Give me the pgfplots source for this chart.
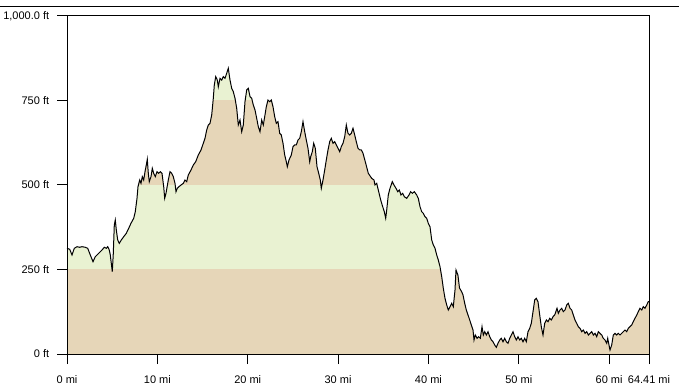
\documentclass[border=0pt]{standalone}
\usepackage{fontspec}
\setmainfont{Liberation Sans}
\usepackage{pgfplots}
\usepackage{pgfplotstable}
\pgfplotsset{compat=1.18}
\definecolor{tanband}{RGB}{230,214,184}
\definecolor{greenband}{RGB}{233,242,210}
\pgfplotstableread{
mi ft
0.000 312.7
0.299 309.8
0.553 292.9
0.808 312.7
1.107 317.5
1.405 315.7
1.660 317.5
2.025 315.7
2.291 312.7
2.579 292.9
2.877 273.1
3.132 287.9
3.508 297.9
3.873 307.7
4.128 315.7
4.349 312.7
4.504 317.5
4.681 307.7
4.792 292.9
4.903 268.3
5.013 243.5
5.124 297.9
5.235 381.7
5.345 396.4
5.456 366.9
5.611 337.3
5.788 327.5
6.009 337.3
6.275 347.0
6.563 357.1
6.828 371.9
7.083 386.7
7.382 401.5
7.559 421.0
7.747 460.6
7.858 495.0
8.046 514.8
8.190 505.0
8.333 524.6
8.488 514.8
8.632 539.3
8.776 559.2
8.887 576.0
8.998 534.6
9.108 509.8
9.296 524.6
9.440 549.4
9.595 534.6
9.772 524.6
9.960 539.3
10.148 534.6
10.325 539.3
10.514 534.6
10.702 495.0
10.812 460.6
10.956 475.4
11.211 514.8
11.399 539.3
11.587 534.6
11.764 524.6
11.952 505.0
12.063 480.2
12.207 490.2
12.395 495.0
12.616 500.0
12.871 505.0
13.059 514.8
13.247 509.8
13.424 529.6
13.723 544.4
13.978 559.2
14.243 568.9
14.531 588.8
14.830 603.6
15.084 623.4
15.272 638.2
15.461 662.7
15.638 677.5
15.826 682.5
16.014 707.1
16.191 756.5
16.302 795.9
16.457 820.4
16.634 810.6
16.745 790.8
16.933 815.7
17.121 810.6
17.298 820.4
17.486 815.7
17.674 830.5
17.851 845.3
18.039 810.6
18.227 786.1
18.404 776.0
18.593 756.5
18.781 726.9
18.958 677.5
19.146 692.3
19.334 657.7
19.511 677.5
19.699 746.5
19.887 781.1
20.065 786.1
20.253 761.2
20.441 756.5
20.618 736.7
20.806 721.9
20.994 697.3
21.171 672.5
21.359 657.7
21.548 692.3
21.725 677.5
21.880 702.1
22.057 731.6
22.245 751.5
22.433 746.5
22.610 751.5
22.798 731.6
22.986 702.1
23.164 682.5
23.351 687.3
23.540 653.0
23.717 647.9
23.905 623.4
24.093 588.8
24.270 568.9
24.381 554.1
24.569 574.0
24.823 588.8
25.011 613.3
25.199 618.4
25.377 618.4
25.565 633.1
25.753 638.2
25.930 657.7
26.118 687.3
26.306 657.7
26.483 633.1
26.671 608.6
26.859 568.9
26.970 583.7
27.147 598.5
27.302 623.4
27.479 608.6
27.668 554.1
27.856 534.6
28.033 514.8
28.144 490.2
28.332 514.8
28.520 544.4
28.697 574.0
28.885 603.6
29.073 628.1
29.250 638.2
29.438 623.4
29.626 628.1
29.804 618.4
29.992 608.6
30.180 598.5
30.357 613.3
30.545 623.4
30.733 642.9
30.910 677.5
31.098 653.0
31.286 647.9
31.464 653.0
31.652 667.8
31.840 647.9
32.017 628.1
32.205 608.6
32.393 603.6
32.570 603.6
32.758 593.8
33.050 565.0
33.344 534.6
33.720 519.8
33.976 514.8
34.086 500.0
34.274 505.0
34.451 485.2
34.717 455.6
34.938 435.8
35.115 421.0
35.270 401.5
35.381 426.0
35.558 470.4
35.746 490.2
36.000 509.8
36.189 500.0
36.410 490.2
36.598 480.2
36.775 485.2
36.964 470.4
37.152 475.4
37.329 465.4
37.595 460.6
37.849 470.4
38.037 480.2
38.214 475.4
38.436 480.2
38.701 470.4
38.878 460.6
39.067 435.8
39.255 421.0
39.432 416.3
39.620 406.2
39.808 401.5
39.985 386.7
40.173 376.6
40.362 337.3
40.539 322.5
40.727 312.7
40.915 292.9
41.092 278.1
41.280 258.3
41.469 228.7
41.646 194.4
41.833 164.8
42.022 145.0
42.199 130.2
42.387 139.9
42.575 150.0
42.752 139.9
42.940 189.3
43.051 248.5
43.261 233.7
43.439 195.3
43.693 183.4
43.826 174.6
44.014 150.0
44.191 130.2
44.380 115.4
44.568 100.6
44.745 85.8
44.933 71.0
45.043 41.4
45.187 56.2
45.375 46.4
45.564 51.2
45.741 46.4
45.929 80.8
46.073 56.2
46.228 66.0
46.405 56.2
46.592 66.0
46.781 51.2
46.958 41.4
47.145 36.4
47.334 26.6
47.511 19.8
47.699 31.7
47.887 41.4
48.064 46.4
48.252 36.4
48.440 46.4
48.617 36.4
48.805 31.7
48.994 46.4
49.171 56.2
49.359 66.0
49.547 51.2
49.724 41.4
49.912 51.2
50.100 41.4
50.277 46.4
50.466 36.4
50.654 46.4
50.831 36.4
51.019 66.0
51.207 76.0
51.384 90.8
51.572 125.1
51.760 159.8
51.938 164.8
52.126 154.7
52.314 115.4
52.491 80.8
52.679 56.2
52.867 90.8
53.045 100.6
53.232 95.6
53.421 105.6
53.598 100.6
53.786 110.4
53.974 115.4
54.228 135.2
54.372 120.4
54.560 130.2
54.749 135.2
54.926 125.1
55.114 130.2
55.302 145.0
55.479 150.0
55.667 135.2
55.855 130.2
56.033 115.4
56.220 100.6
56.409 90.8
56.586 80.8
56.774 76.0
56.962 66.0
57.139 71.0
57.327 61.2
57.516 66.0
57.693 56.2
57.880 61.2
58.069 66.0
58.246 56.2
58.434 61.2
58.622 51.2
58.799 66.0
58.987 61.2
59.176 56.2
59.353 46.4
59.540 41.4
59.729 31.7
59.839 46.4
59.983 26.6
60.094 11.8
60.282 26.6
60.459 56.2
60.647 61.2
60.835 56.2
61.012 61.2
61.201 56.2
61.389 61.2
61.566 66.0
61.754 71.0
61.942 66.0
62.119 76.0
62.307 80.8
62.495 85.8
62.672 95.6
62.861 105.6
63.049 115.4
63.226 125.1
63.414 135.2
63.602 130.2
63.779 139.9
63.967 135.2
64.155 145.0
64.332 154.7
64.410 154.7
}\profile
\begin{document}
\fontsize{11bp}{13bp}\selectfont
\begin{tikzpicture}
\path[use as bounding box] (0,0) rectangle (679bp,389bp);
\draw[line width=1bp] (0,382bp) -- (679bp,382bp);
\begin{axis}[
  at={(67bp,35bp)}, anchor=south west,
  scale only axis, width=582bp, height=338bp,
  xmin=0, xmax=64.41, ymin=0, ymax=1000,
  axis line style={line width=1bp},
  axis x line*=bottom, axis y line*=left,
  tick align=outside, major tick length=10bp,
  tick style={line width=1bp, black},
  xtick={0,10,20,30,40,50,60,64.41},
  xticklabels={0 mi,10 mi,20 mi,30 mi,40 mi,50 mi,60 mi,64.41 mi},
  ytick={0,250,500,750,1000},
  yticklabels={0 ft,250 ft,500 ft,750 ft,{1,000.0 ft}},
  ticklabel style={font=\fontsize{11bp}{13bp}\selectfont},
  xticklabel style={yshift=-8bp},
  yticklabel style={xshift=-4bp},
  clip=false,
]
\addplot[fill=tanband, draw=none] coordinates {(0,0) (64.41,0) (64.41,250) (0,250)} -- cycle;
\addplot[fill=greenband, draw=none] coordinates {(0,250) (64.41,250) (64.41,500) (0,500)} -- cycle;
\addplot[fill=tanband, draw=none] coordinates {(0,500) (64.41,500) (64.41,750) (0,750)} -- cycle;
\addplot[fill=greenband, draw=none] coordinates {(0,750) (64.41,750) (64.41,1000) (0,1000)} -- cycle;
\addplot[fill=white, draw=none] table[x=mi,y=ft] {\profile} -- (axis cs:64.41,1000) -- (axis cs:0,1000) -- cycle;
\addplot[black, line width=1bp] table[x=mi,y=ft] {\profile};
\draw[line width=1bp] (axis cs:0,0) -- (axis cs:0,1000) -- (axis cs:64.41,1000) -- (axis cs:64.41,0);
\end{axis}
\end{tikzpicture}
\end{document}
